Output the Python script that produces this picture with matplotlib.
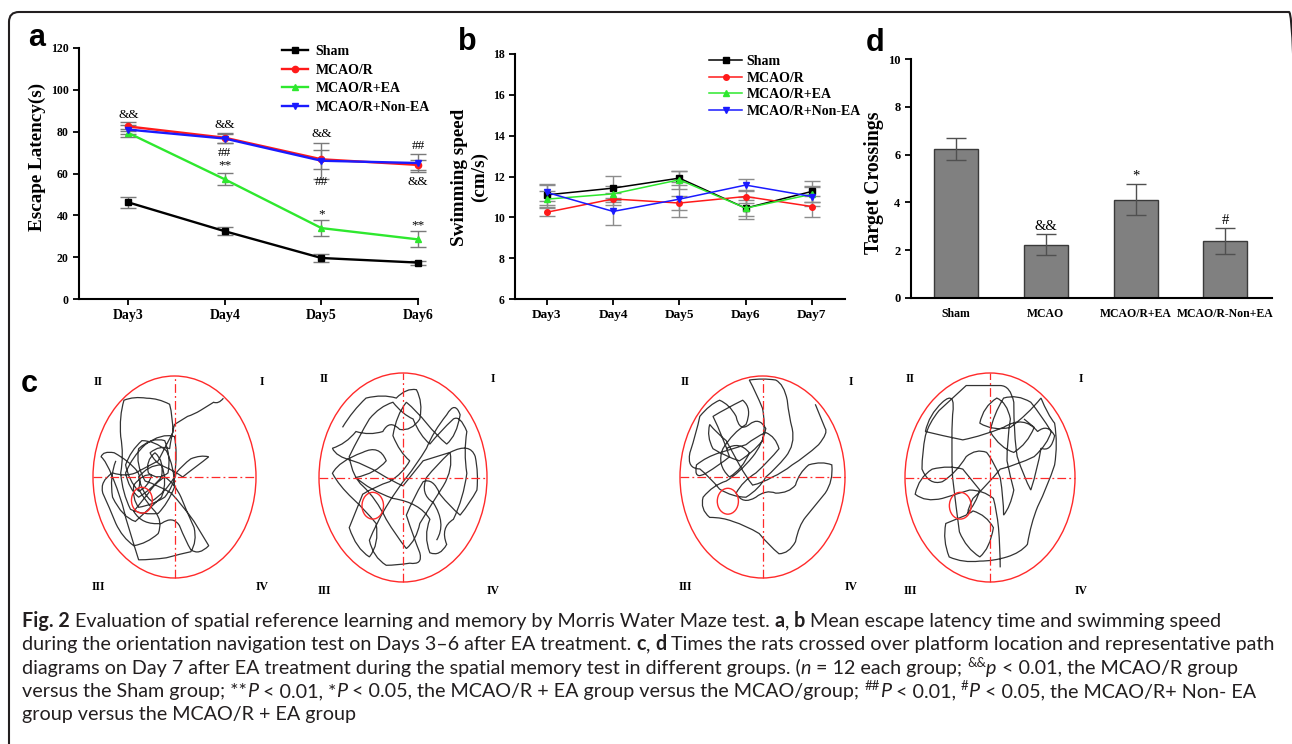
#!/usr/bin/env python3
# plot.py - Fig. 2, Morris water maze: escape latency (a), swim speed (b),
# representative swim paths (c) and target crossings (d), plus caption.
import matplotlib
matplotlib.use("Agg")
import matplotlib.pyplot as plt
from matplotlib.patches import Circle, FancyBboxPatch, PathPatch
from matplotlib.path import Path
import numpy as np

W, H = 1292, 744
SERIF = "Liberation Serif"

GROUPS = ["Sham", "MCAO/R", "MCAO/R+EA", "MCAO/R+Non-EA"]

# (a) escape latency (s), mean and SE
LAT_DAYS = [3, 4, 5, 6]
LAT_TICKS = ["Day3", "Day4", "Day5", "Day6"]
LAT_SHAM = [46.2, 32.4, 19.6, 17.4]
LAT_MCAO = [82.5, 77.1, 66.8, 64.1]
LAT_EA = [79.4, 57.2, 33.9, 28.5]
LAT_NONEA = [81.0, 76.7, 66.1, 65.0]
LAT_SHAM_SE = [2.7, 2.0, 1.8, 1.0]
LAT_MCAO_SE = [2.0, 2.5, 4.5, 2.5]
LAT_EA_SE = [2.0, 2.9, 4.0, 3.8]
LAT_NONEA_SE = [2.0, 2.0, 8.5, 4.2]

# (b) swimming speed (cm/s)
SPD_DAYS = [3, 4, 5, 6, 7]
SPD_TICKS = ["Day3", "Day4", "Day5", "Day6", "Day7"]
SPD_SHAM = [11.10, 11.43, 11.92, 10.45, 11.27]
SPD_MCAO = [10.25, 10.90, 10.70, 11.02, 10.53]
SPD_EA = [10.89, 11.15, 11.84, 10.45, 11.13]
SPD_NONEA = [11.22, 10.29, 10.89, 11.58, 11.02]
SPD_SHAM_SE = [0.50, 0.60, 0.35, 0.40, 0.50]
SPD_MCAO_SE = [0.20, 0.30, 0.35, 0.30, 0.50]
SPD_EA_SE = [0.40, 0.40, 0.45, 0.55, 0.40]
SPD_NONEA_SE = [0.40, 0.65, 0.85, 0.30, 0.45]

# (d) target crossings
CROSS_LABELS = ["Sham", "MCAO", "MCAO/R+EA", "MCAO/R-Non+EA"]
CROSS_MEAN = [6.23, 2.23, 4.11, 2.37]
CROSS_SE = [0.47, 0.45, 0.65, 0.54]
CROSS_SIG = ["", "&&", "*", "#"]

# (c) swim paths, pool coordinates in % of diameter (0..100, y up)
PATH_SHAM = [(80, 89), (77, 86), (74, 87), (70, 85), (66, 83), (62, 81), (58, 80), (54, 78), (50, 76),
             (48, 70), (47, 64), (41, 66), (35, 62), (38, 57), (44, 55), (50, 53), (55, 50), (58, 52),
             (63, 55), (68, 58), (71, 60), (66, 61), (60, 59), (55, 56), (51, 52), (49, 45), (44, 40),
             (36, 36), (28, 35), (24, 39), (25, 46), (31, 52), (36, 51), (34, 45), (28, 43), (22, 48),
             (20, 56), (23, 63), (30, 68), (38, 68), (45, 63), (50, 55), (50, 45), (46, 37), (40, 32),
             (31, 31), (23, 34), (18, 42), (17, 52), (19, 61), (17, 70), (16, 80), (19, 88), (25, 90),
             (33, 89), (40, 89), (47, 86), (49, 80), (49, 72), (45, 66), (40, 58), (33, 55), (26, 52),
             (20, 50), (12, 52), (4, 48), (6, 42), (10, 35), (14, 27), (18, 20), (25, 16), (33, 17),
             (40, 22), (43, 28), (38, 33), (32, 38), (28, 44), (30, 50), (27, 53), (22, 58), (13, 62),
             (6, 63), (5, 60), (8, 58), (12, 50), (18, 38), (20, 30), (26, 14), (28, 9), (36, 9),
             (45, 10), (54, 12), (60, 13), (64, 18), (62, 25), (58, 32), (54, 40), (50, 47), (44, 50),
             (38, 47), (34, 42), (30, 38), (25, 33), (30, 26), (42, 27), (49, 31), (53, 26), (57, 18),
             (60, 14), (65, 11), (71, 16), (68, 20), (62, 28), (55, 36), (48, 42), (40, 46), (32, 48),
             (26, 56), (28, 64), (36, 70), (44, 68), (48, 60), (46, 52), (40, 48), (34, 52), (32, 58),
             (38, 62), (44, 58), (42, 50), (36, 44), (28, 40), (22, 44), (20, 52), (24, 60), (32, 66),
             (42, 72), (50, 70), (52, 62), (50, 50), (44, 42), (36, 38), (30, 42), (28, 50), (34, 56),
             (42, 56), (46, 48), (42, 40), (34, 34), (26, 28), (18, 30), (12, 40), (10, 50), (14, 58)]
PATH_MCAO = [(14, 74), (20, 82), (28, 88), (38, 90), (46, 88), (52, 93), (58, 92), (62, 86), (60, 78),
             (55, 72), (48, 73), (42, 78), (38, 72), (30, 70), (22, 72), (16, 66), (8, 64), (10, 60),
             (20, 58), (28, 56), (36, 52), (44, 48), (50, 46), (56, 52), (62, 58), (70, 60), (78, 62),
             (90, 67), (93, 60), (95, 52), (94, 44), (90, 38), (84, 32), (78, 36), (72, 42), (68, 50),
             (62, 48), (56, 40), (52, 32), (56, 22), (60, 14), (62, 8), (54, 9), (46, 8), (40, 8),
             (32, 12), (30, 20), (34, 28), (40, 36), (46, 44), (52, 50), (58, 56), (64, 64), (68, 72),
             (76, 80), (81, 87), (84, 80), (82, 70), (76, 66), (70, 70), (64, 76), (58, 82), (52, 86),
             (46, 80), (44, 70), (48, 62), (54, 58), (50, 52), (42, 48), (34, 46), (26, 42), (22, 34),
             (18, 26), (22, 16), (30, 12), (36, 18), (34, 28), (28, 34), (20, 40), (12, 46), (8, 52),
             (12, 58), (26, 62), (36, 66), (40, 58), (34, 52), (22, 50), (30, 44), (44, 40), (60, 38),
             (66, 30), (62, 22), (66, 14), (72, 12), (76, 18), (72, 26), (80, 30), (86, 40), (88, 52),
             (86, 62), (88, 72), (84, 80), (80, 78), (72, 72), (66, 66), (60, 70), (56, 78), (50, 80),
             (44, 86), (36, 84), (30, 78), (24, 70), (18, 60), (20, 50), (26, 46), (34, 40), (40, 30),
             (46, 22), (52, 16), (58, 20), (60, 28), (66, 36), (74, 46), (80, 54), (78, 62), (70, 56),
             (64, 50), (60, 42), (68, 38), (76, 28), (70, 20)]
PATH_EA = [(82, 86), (85, 80), (88, 74), (90, 72), (84, 66), (76, 60), (68, 56), (62, 52), (56, 50),
           (50, 47), (44, 46), (40, 50), (36, 56), (32, 62), (28, 68), (22, 72), (18, 76), (16, 70),
           (20, 64), (28, 60), (36, 58), (44, 62), (50, 68), (52, 76), (50, 84), (46, 92), (42, 98),
           (50, 99), (58, 98), (63, 96), (65, 88), (66, 80), (68, 74), (70, 66), (64, 60), (58, 54),
           (52, 50), (48, 44), (40, 40), (32, 40), (24, 44), (18, 50), (12, 54), (4, 54), (6, 62),
           (10, 72), (12, 80), (18, 86), (24, 88), (30, 86), (34, 80), (36, 72), (42, 76), (48, 80),
           (52, 74), (50, 66), (44, 60), (36, 52), (28, 48), (20, 46), (14, 40), (12, 34), (18, 30),
           (26, 30), (32, 28), (40, 26), (48, 22), (54, 16), (60, 12), (66, 12), (70, 18), (72, 26),
           (76, 30), (82, 36), (88, 42), (93, 48), (92, 56), (86, 58), (78, 56), (72, 52), (70, 46),
           (66, 42), (58, 42), (52, 44), (46, 40), (38, 36), (34, 42), (38, 48), (46, 52), (54, 58),
           (60, 64), (58, 70), (52, 72), (46, 70), (40, 66), (32, 64), (24, 62), (16, 60), (10, 56),
           (8, 48), (16, 52), (24, 56), (30, 60), (26, 70), (20, 80), (28, 84), (38, 88), (44, 84),
           (40, 76), (32, 72), (26, 64), (22, 56), (30, 50), (38, 54), (42, 62), (36, 68), (28, 64)]
PATH_NONEA = [(56, 7), (56, 16), (55, 26), (54, 34), (52, 40), (46, 44), (38, 44), (30, 42), (22, 40),
              (12, 38), (6, 42), (8, 50), (16, 54), (26, 56), (34, 54), (40, 48), (44, 44), (42, 38),
              (36, 32), (30, 30), (24, 28), (22, 20), (26, 12), (34, 9), (44, 10), (52, 10), (60, 12),
              (68, 14), (72, 18), (74, 28), (78, 36), (84, 46), (88, 56), (90, 66), (88, 76), (84, 80),
              (80, 88), (72, 80), (62, 74), (52, 72), (44, 76), (46, 84), (54, 88), (60, 86), (62, 78),
              (60, 68), (60, 58), (62, 50), (64, 44), (62, 36), (58, 32), (58, 40), (56, 50), (52, 58),
              (48, 62), (42, 64), (36, 60), (30, 52), (22, 48), (14, 46), (10, 54), (10, 62), (12, 70),
              (14, 76), (20, 82), (28, 88), (36, 94), (46, 94), (56, 94), (62, 94), (64, 86), (64, 70),
              (66, 60), (70, 50), (74, 44), (78, 54), (80, 64), (86, 62), (88, 70), (84, 76), (78, 72),
              (70, 80), (58, 74), (46, 70), (34, 68), (22, 70), (12, 72), (14, 80), (22, 86), (30, 92),
              (28, 80), (27, 66), (28, 50), (30, 36), (32, 24), (36, 16), (44, 12), (50, 16), (52, 26),
              (48, 32), (40, 34), (34, 30), (40, 40), (48, 46), (56, 54), (66, 56), (76, 60), (84, 66),
              (86, 72), (80, 80), (74, 86), (66, 90), (58, 88), (52, 80), (50, 72), (56, 64), (64, 62),
              (72, 66), (76, 74), (70, 78)]
PLATFORMS = [(30, 38.5), (32, 36.5), (29, 38), (32.5, 36.5)]
QUADRANTS = ["II", "I", "III", "IV"]

# caption runs: n = normal, b = bold, i = italic, s = superscript
CAPTION = [
    [("Fig. 2", "b"), (" Evaluation of spatial reference learning and memory by Morris Water Maze test. ", "n"),
     ("a", "b"), (", ", "n"), ("b", "b"), (" Mean escape latency time and swimming speed", "n")],
    [("during the orientation navigation test on Days 3–6 after EA treatment. ", "n"), ("c", "b"),
     (", ", "n"), ("d", "b"), (" Times the rats crossed over platform location and representative path", "n")],
    [("diagrams on Day 7 after EA treatment during the spatial memory test in different groups. (", "n"),
     ("n", "i"), (" = 12 each group; ", "n"), ("&&", "s"), ("p", "i"), (" < 0.01, the MCAO/R group", "n")],
    [("versus the Sham group; **", "n"), ("P", "i"), (" < 0.01, *", "n"), ("P", "i"),
     (" < 0.05, the MCAO/R + EA group versus the MCAO/group; ", "n"), ("##", "s"), ("P", "i"),
     (" < 0.01, ", "n"), ("#", "s"), ("P", "i"), (" < 0.05, the MCAO/R+ Non- EA", "n")],
    [("group versus the MCAO/R + EA group", "n")],
]

SERIES_STYLE = [("#000000", "s"), ("#ff1a1a", "o"), ("#2ee82e", "^"), ("#1a1aff", "v")]

plt.rcParams["font.family"] = [SERIF, "DejaVu Serif"]
plt.rcParams["font.weight"] = "bold"
plt.rcParams["axes.labelweight"] = "bold"

fig = plt.figure(figsize=(W / 100, H / 100), dpi=100)


def px_axes(l, t, r, b):
    return fig.add_axes([l / W, 1 - b / H, (r - l) / W, (b - t) / H])


def frame(ax):
    for s in ("top", "right"):
        ax.spines[s].set_visible(False)
    for s in ("left", "bottom"):
        ax.spines[s].set_linewidth(1.5)
    ax.tick_params(direction="out", length=4, width=1.3)


def panel_letter(x, y, s):
    fig.text(x / W, 1 - y / H, s, family="Liberation Sans", weight="bold", size=22,
             ha="center", va="center")


legend_prop = dict(family=SERIF, weight="bold", size=10)

# ---- (a) escape latency
ax = px_axes(79, 48, 418, 299)
lat = [LAT_SHAM, LAT_MCAO, LAT_EA, LAT_NONEA]
lat_se = [LAT_SHAM_SE, LAT_MCAO_SE, LAT_EA_SE, LAT_NONEA_SE]
for vals, se in zip(lat, lat_se):
    ax.errorbar(LAT_DAYS, vals, yerr=se, fmt="none", ecolor="#7a7a7a", elinewidth=1,
                capsize=6, capthick=1, clip_on=False)
for vals, (c, m), g in zip(lat, SERIES_STYLE, GROUPS):
    ax.plot(LAT_DAYS, vals, color=c, marker=m, ms=4.5, lw=1.7, label=g, clip_on=False)
marks = [(3, 87.8, "&&"), (4, 83, "&&"), (4, 69.8, "##"), (4, 63.7, "**"), (5, 78.9, "&&"),
         (5, 55.8, "##"), (5, 40.3, "*"), (6, 73, "##"), (6, 56, "&&"), (6, 35.2, "**")]
for d, y, s in marks:
    ax.text(d, y, s, ha="center", va="center", size=9.5, weight="normal")
ax.set_xlim(2.49, 6.0)
ax.set_ylim(0, 120)
ax.set_yticks(range(0, 121, 20))
ax.set_xticks(LAT_DAYS)
ax.set_xticklabels(LAT_TICKS, size=10)
ax.tick_params(axis="y", labelsize=8.5)
frame(ax)
ax.set_ylabel("Escape Latency(s)", size=13.8)
ax.yaxis.set_label_coords(-0.097, 0.567)
ax.legend(loc="upper left", bbox_to_anchor=(282 / W, 1 - 45 / H), bbox_transform=fig.transFigure,
          frameon=False, prop=legend_prop, handlelength=1.9, handletextpad=0.5,
          labelspacing=0.40, borderpad=0, borderaxespad=0)
panel_letter(37, 38, "a")

# ---- (b) swimming speed
ax = px_axes(515, 54, 845, 299)
spd = [SPD_SHAM, SPD_MCAO, SPD_EA, SPD_NONEA]
spd_se = [SPD_SHAM_SE, SPD_MCAO_SE, SPD_EA_SE, SPD_NONEA_SE]
for vals, se in zip(spd, spd_se):
    ax.errorbar(SPD_DAYS, vals, yerr=se, fmt="none", ecolor="#8c8c8c", elinewidth=1,
                capsize=6, capthick=1)
for vals, (c, m), g in zip(spd, SERIES_STYLE, GROUPS):
    ax.plot(SPD_DAYS, vals, color=c, marker=m, ms=4, lw=1.1, label=g)
ax.set_xlim(2.52, 7.5)
ax.set_ylim(6, 18)
ax.set_yticks(range(6, 19, 2))
ax.set_xticks(SPD_DAYS)
ax.set_xticklabels(SPD_TICKS, size=9.5)
ax.tick_params(axis="y", labelsize=8.5)
frame(ax)
ax.set_ylabel("Swimming speed\n(cm/s)", size=13.8, linespacing=1.2)
ax.yaxis.set_label_coords(-0.082, 0.496)
ax.legend(loc="upper left", bbox_to_anchor=(709 / W, 1 - 55 / H), bbox_transform=fig.transFigure,
          frameon=False, prop=legend_prop, handlelength=2.4, handletextpad=0.3,
          labelspacing=0.26, borderpad=0, borderaxespad=0)
panel_letter(467, 42, "b")

# ---- (d) target crossings
ax = px_axes(911, 59, 1272, 298)
x = np.arange(len(CROSS_LABELS))
ax.bar(x, CROSS_MEAN, width=0.49, color="#808080", edgecolor="#3a3a3a", lw=1)
ax.errorbar(x, CROSS_MEAN, yerr=CROSS_SE, fmt="none", ecolor="#505050", elinewidth=1,
            capsize=7, capthick=1)
for xi, m, se, s in zip(x, CROSS_MEAN, CROSS_SE, CROSS_SIG):
    if s:
        ax.text(xi, m + se + 0.33, s, ha="center", va="center", size=10.5, weight="normal")
ax.set_xlim(-0.5, 3.52)
ax.set_ylim(0, 10)
ax.set_yticks(range(0, 11, 2))
ax.set_xticks(x)
ax.set_xticklabels(CROSS_LABELS, size=8.5)
frame(ax)
ax.tick_params(axis="x", length=0, pad=7)
ax.tick_params(axis="y", labelsize=9)
ax.set_ylabel("Target Crossings", size=14.2)
ax.yaxis.set_label_coords(-0.075, 0.481)
panel_letter(875, 43, "d")

# ---- (c) swim paths
pools = [(174.5, 477, 81.5, 101), (403, 477.5, 84, 104.5), (762.5, 477, 82.5, 101),
         (990, 477.5, 85, 104.5)]
paths = [PATH_SHAM, PATH_MCAO, PATH_EA, PATH_NONEA]
dash = (0, (7, 2.5, 1.5, 2.5))
for (cx, cy, a, b), path, plat in zip(pools, paths, PLATFORMS):
    ax = px_axes(cx - 1.25 * a, cy - 1.25 * b, cx + 1.25 * a, cy + 1.25 * b)
    ax.set_xlim(-12.5, 112.5)
    ax.set_ylim(-12.5, 112.5)
    ax.axis("off")
    ax.add_patch(Circle((50, 50), 50, fill=False, ec="#ff2a2a", lw=1))
    ax.plot([0, 100], [50, 50], color="#ff2a2a", lw=0.9, ls=dash)
    ax.plot([50, 50], [0, 100], color="#ff2a2a", lw=0.9, ls=dash)
    # waypoints used as quadratic bezier control / end points -> curvy track
    verts = list(path) if len(path) % 2 == 1 else list(path) + [path[-1]]
    codes = [Path.MOVETO] + [Path.CURVE3] * (len(verts) - 1)
    ax.add_patch(PathPatch(Path(verts, codes), fill=False, ec="#333333", lw=0.9))
    ax.add_patch(Circle(plat, 6.4, fill=False, ec="#ff2a2a", lw=1))
    for (qx, qy), q in zip([(3, 97), (103.5, 97), (3, -4.5), (103.5, -4.5)], QUADRANTS):
        ax.text(qx, qy, q, ha="center", va="center", size=8.5)
panel_letter(29, 384, "c")

# ---- caption, drawn run by run so bold / italic / superscript can mix
CAP_SIZE = 14.2
renderer = fig.canvas.get_renderer()
probe = fig.text(0, 0, "a a", family="Lato", size=CAP_SIZE, weight="normal")
space_w = probe.get_window_extent(renderer).width
probe.set_text("aa")
space_w -= probe.get_window_extent(renderer).width
probe.remove()

for i, runs in enumerate(CAPTION):
    xpx = 22.0
    base = 627 + 23.3 * i
    for s, kind in runs:
        core = s.strip(" ")
        xpx += (len(s) - len(s.lstrip(" "))) * space_w
        kw = dict(family="Lato", size=CAP_SIZE, weight="normal", color="#231f20")
        y = base
        if kind == "b":
            kw["weight"] = "bold"
        elif kind == "i":
            kw["style"] = "italic"
        elif kind == "s":
            kw["size"] = 9.5
            y = base - 7
        t = fig.text(xpx / W, 1 - y / H, core, va="baseline", ha="left", **kw)
        xpx += t.get_window_extent(renderer).width + (len(s) - len(s.rstrip(" "))) * space_w

fig.patches.append(FancyBboxPatch((0.09, -0.16), 12.9, 7.48, boxstyle="round,pad=0,rounding_size=0.1",
                                  transform=fig.dpi_scale_trans, fill=False, ec="#231f20", lw=1.5))

fig.savefig("out.png", dpi=100)
